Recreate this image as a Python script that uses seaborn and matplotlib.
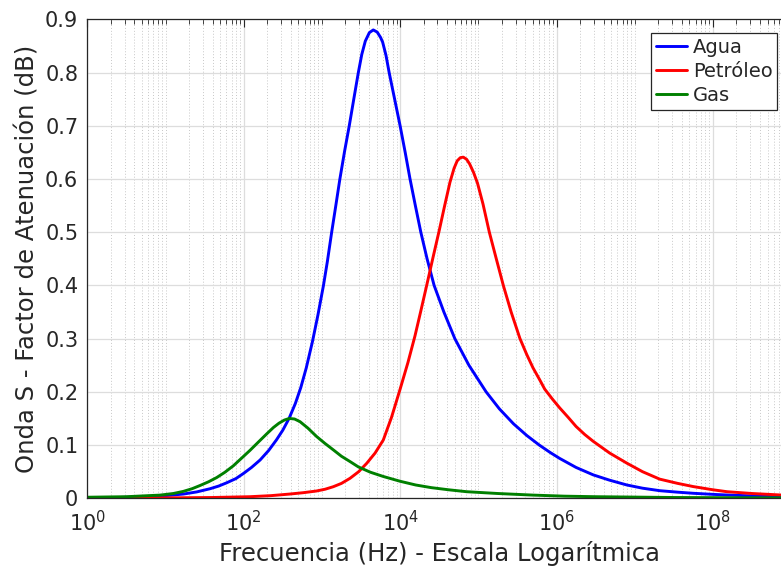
import numpy as np
import pandas as pd
import matplotlib
matplotlib.use("Agg")
import matplotlib.pyplot as plt
import matplotlib.ticker as mticker
import seaborn as sns

# ---- data (x stored as log10(frequency in Hz)) ----
agua_logf = [0.0, 0.4, 0.8, 1.0, 1.23, 1.4, 1.57, 1.68, 1.78, 1.9, 2.0, 2.1, 2.21,
             2.32, 2.42, 2.5, 2.58, 2.66, 2.73, 2.8, 2.88, 2.95, 3.02, 3.07, 3.125,
             3.18, 3.23, 3.29, 3.35, 3.41, 3.466, 3.51, 3.555, 3.607, 3.657, 3.707,
             3.75, 3.777, 3.82, 3.86, 3.93, 4.0, 4.065, 4.127, 4.195, 4.265, 4.345,
             4.435, 4.56, 4.7, 4.88, 5.1, 5.27, 5.45, 5.62, 5.78, 5.92, 6.04, 6.25,
             6.47, 6.68, 6.9, 7.1, 7.32, 7.55, 7.75, 8.0, 8.18, 8.5, 8.87, 9.0]
agua_val = [0.001, 0.0015, 0.003, 0.005, 0.008, 0.012, 0.018, 0.023, 0.029, 0.037,
            0.047, 0.058, 0.072, 0.09, 0.11, 0.128, 0.15, 0.178, 0.208, 0.245, 0.295,
            0.345, 0.4, 0.445, 0.5, 0.552, 0.6, 0.652, 0.7, 0.752, 0.8, 0.834, 0.859,
            0.875, 0.88, 0.876, 0.866, 0.857, 0.832, 0.8, 0.75, 0.7, 0.65, 0.6, 0.55,
            0.5, 0.45, 0.4, 0.35, 0.3, 0.25, 0.2, 0.168, 0.14, 0.118, 0.1, 0.086,
            0.075, 0.058, 0.044, 0.034, 0.025, 0.019, 0.0143, 0.0115, 0.0094, 0.0074,
            0.0062, 0.0045, 0.003, 0.0028]

petroleo_logf = [0.0, 1.0, 1.6, 2.08, 2.35, 2.59, 2.76, 2.93, 3.04, 3.146, 3.25, 3.36,
                 3.47, 3.573, 3.68, 3.785, 3.89, 4.0, 4.1, 4.19, 4.265, 4.34, 4.42,
                 4.5, 4.57, 4.638, 4.69, 4.73, 4.77, 4.808, 4.85, 4.89, 4.94, 4.99,
                 5.06, 5.141, 5.23, 5.32, 5.42, 5.533, 5.62, 5.7, 5.78, 5.85, 5.95,
                 6.04, 6.15, 6.25, 6.36, 6.47, 6.68, 6.9, 7.1, 7.32, 7.55, 7.75, 8.0,
                 8.18, 8.5, 8.87, 9.0]
petroleo_val = [0.0003, 0.0008, 0.0015, 0.003, 0.005, 0.008, 0.0105, 0.0137, 0.017,
                0.0218, 0.028, 0.0376, 0.05, 0.0657, 0.085, 0.1095, 0.152, 0.205, 0.255,
                0.305, 0.352, 0.4, 0.452, 0.503, 0.55, 0.594, 0.62, 0.634, 0.64, 0.641,
                0.637, 0.628, 0.612, 0.592, 0.553, 0.5, 0.45, 0.4, 0.35, 0.3, 0.27, 0.245,
                0.224, 0.205, 0.186, 0.17, 0.152, 0.135, 0.12, 0.107, 0.085, 0.066,
                0.05, 0.036, 0.028, 0.022, 0.016, 0.0124, 0.009, 0.0062, 0.0055]

gas_logf = [0.0, 0.5, 0.93, 1.1, 1.228, 1.34, 1.441, 1.55, 1.655, 1.76, 1.867, 1.97,
            2.08, 2.19, 2.294, 2.38, 2.45, 2.52, 2.583, 2.65, 2.72, 2.82, 2.933, 3.04,
            3.146, 3.25, 3.36, 3.466, 3.62, 3.785, 4.0, 4.2, 4.4, 4.62, 4.85, 5.25,
            5.7, 6.1, 6.5, 7.5, 9.0]
gas_val = [0.002, 0.003, 0.006, 0.009, 0.013, 0.018, 0.024, 0.031, 0.039, 0.049, 0.061,
           0.075, 0.09, 0.106, 0.121, 0.133, 0.141, 0.147, 0.15, 0.149, 0.144, 0.132,
           0.116, 0.103, 0.091, 0.079, 0.069, 0.059, 0.049, 0.041, 0.032, 0.025, 0.02,
           0.016, 0.0124, 0.009, 0.006, 0.004, 0.003, 0.0015, 0.0007]

series_names = ["Agua", "Petróleo", "Gas"]
series_colors = ["#0000ff", "#ff0000", "#008000"]
y_ticks = [0, 0.1, 0.2, 0.3, 0.4, 0.5, 0.6, 0.7, 0.8, 0.9]
x_major = [1e0, 1e2, 1e4, 1e6, 1e8]

frames = []
for name, lf, v in zip(series_names,
                       [agua_logf, petroleo_logf, gas_logf],
                       [agua_val, petroleo_val, gas_val]):
    frames.append(pd.DataFrame({"freq": np.power(10.0, lf), "val": v, "Medio": name}))
df = pd.concat(frames, ignore_index=True)

sns.set_style("white")
plt.rcParams["font.family"] = ["DejaVu Sans"]
plt.rcParams["mathtext.fontset"] = "dejavusans"

W, H = 781, 573
fig = plt.figure(figsize=(W / 100, H / 100), dpi=100)
left, right, top, bottom = 87.3, 791.1, 19.3, 498.3
ax = fig.add_axes([left / W, (H - bottom) / H, (right - left) / W, (bottom - top) / H])

sns.lineplot(data=df, x="freq", y="val", hue="Medio", hue_order=series_names,
             palette=dict(zip(series_names, series_colors)), linewidth=2.1,
             estimator=None, ax=ax, legend=False)
for ln in ax.get_lines():
    ln.set_solid_joinstyle("round")
    ln.set_solid_capstyle("round")

ax.set_xscale("log")
ax.set_xlim(1, 1e9)
ax.set_ylim(0, 0.9)

txt = "#262626"
ax.xaxis.set_major_locator(mticker.FixedLocator(x_major))
ax.xaxis.set_major_formatter(mticker.LogFormatterSciNotation())
ax.xaxis.set_minor_locator(mticker.LogLocator(base=10, subs=np.arange(1, 10), numticks=100))
ax.xaxis.set_minor_formatter(mticker.NullFormatter())
ax.set_yticks(y_ticks)
ax.yaxis.set_major_formatter(mticker.FuncFormatter(lambda v, p: "0" if v == 0 else f"{v:g}"))

ax.tick_params(axis="both", which="major", direction="in", length=6, width=0.8,
               color=txt, labelcolor=txt, labelsize=15, top=True, right=True)
ax.tick_params(axis="y", which="major", pad=6.5)
ax.tick_params(axis="x", which="major", pad=8.5)
ax.tick_params(axis="x", which="minor", direction="in", length=3.5, width=0.6,
               color=txt, top=True)
for s in ax.spines.values():
    s.set_color(txt)
    s.set_linewidth(0.9)

ax.grid(True, which="major", axis="both", color="#dddddd", linewidth=0.9, linestyle="-")
ax.grid(True, which="minor", axis="x", color="#c8c8c8", linewidth=0.7, linestyle=(0, (1, 2)))
ax.set_axisbelow(True)

ax.set_xlabel("Frecuencia (Hz) - Escala Logarítmica", fontsize=17.5, color=txt, labelpad=4)
ax.set_ylabel("Onda S - Factor de Atenuación (dB)", fontsize=17.5, color=txt, labelpad=4)

handles = [plt.Line2D([], [], color=c, linewidth=2.1) for c in series_colors]
leg = ax.legend(handles, series_names, loc="upper right",
                bbox_to_anchor=(777.3 / W, 1 - 33.3 / H), bbox_transform=fig.transFigure,
                borderaxespad=0, fontsize=14, frameon=True, fancybox=False,
                framealpha=1, edgecolor="#262626", handlelength=1.6,
                handletextpad=0.3, labelspacing=0.25, borderpad=0.25)
leg.get_frame().set_linewidth(0.9)
for t in leg.get_texts():
    t.set_color(txt)

fig.savefig("out.png", dpi=100)
